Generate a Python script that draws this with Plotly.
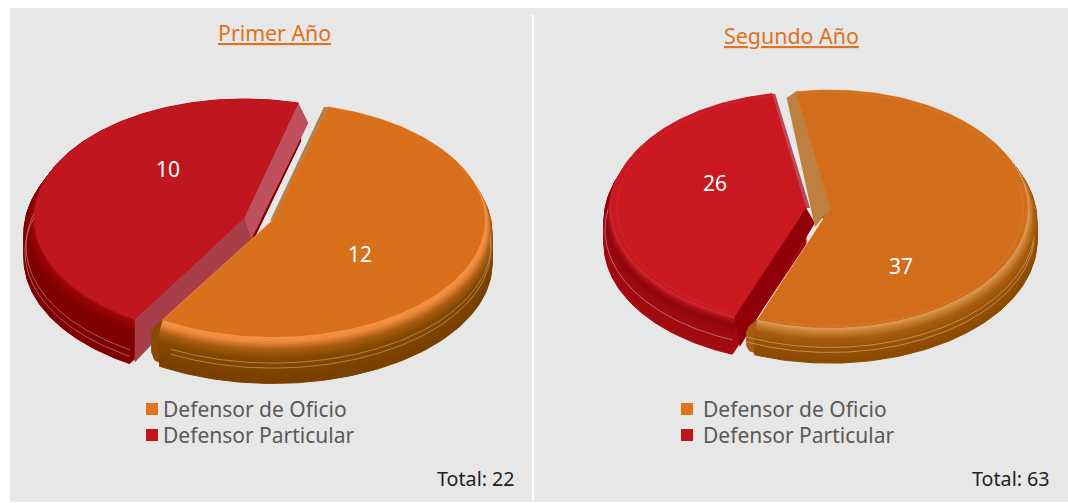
import numpy as np
import plotly.graph_objects as go

# ---- data ----
categories = ["Defensor de Oficio", "Defensor Particular"]
panel_titles = ["Primer Año", "Segundo Año"]
primer_values = [12, 10]
segundo_values = [37, 26]
totals = [sum(primer_values), sum(segundo_values)]

# ---- styles / geometry ----
FONT = "Noto Sans"
BG = "#e7e7e7"
FACE = {"a": ["#d9711c", "#bf1620"], "b": ["#d16d1b", "#c9181f"]}
W, H = 1068, 503


def lerp(c1, c2, t):
    a = [int(c1[i:i + 2], 16) for i in (1, 3, 5)]
    b = [int(c2[i:i + 2], 16) for i in (1, 3, 5)]
    return "#" + "".join(f"{round(x + (y - x) * t):02x}" for x, y in zip(a, b))


def ramp(stops, n):
    """stops: (position, colour); returns n colours from deep to top."""
    pos = [s[0] for s in stops]
    out = []
    for t in np.linspace(0, 1, n):
        j = min(np.searchsorted(pos, t, side="right") - 1, len(stops) - 2)
        f = (t - pos[j]) / (pos[j + 1] - pos[j])
        out.append(lerp(stops[j][1], stops[j + 1][1], f))
    return out


def pt(g, ang):
    a = np.radians(ang)
    return g["cx"] + g["rx"] * np.cos(a), g["cy"] - g["ry"] * np.sin(a)


def wedge(g, a0, a1, dy=0, grow=0):
    t = np.radians(np.linspace(a0, a1, 160))
    x = g["cx"] + (g["rx"] + grow) * np.cos(t)
    y = g["cy"] + dy - (g["ry"] + grow * 0.35) * np.sin(t)
    return np.r_[g["cx"], x, g["cx"]], np.r_[g["cy"] + dy, y, g["cy"] + dy]


def poly(x, y, color, line=0):
    return go.Scatter(x=list(x), y=list(y), mode="lines", fill="toself", fillcolor=color,
                      line=dict(color=color, width=line), hoverinfo="skip", showlegend=False)


def arc(g, a0, a1, dy, grow, color, width=0.7):
    t = np.radians(np.linspace(a0, a1, 120))
    return go.Scatter(x=g["cx"] + (g["rx"] + grow) * np.cos(t),
                      y=g["cy"] + dy - (g["ry"] + grow * 0.35) * np.sin(t),
                      mode="lines", line=dict(color=color, width=width),
                      hoverinfo="skip", showlegend=False)


def quad(g, ang, d_apex, d_rim, color):
    """Cut face between the slice's apex and its rim at angle ang."""
    rx, ry = pt(g, ang)
    x = [g["cx"], rx, rx + d_rim[0], g["cx"] + d_apex[0]]
    y = [g["cy"], ry, ry + d_rim[1], g["cy"] + d_apex[1]]
    return poly(x, y, color)


def corner(g, ang, offsets, color):
    """Rounded end of a slice's side wall, hanging from its rim point at angle ang."""
    rx, ry = pt(g, ang)
    return poly([rx + d[0] for d in offsets], [ry + d[1] for d in offsets], color, 1)


def slice_layers(g, a0, a1, stops, depth, grow, bevel, n=30):
    cols = ramp(stops, n)
    out = []
    for i, c in enumerate(cols):
        t = i / (n - 1)
        dy = depth * (1 - t)
        gr = grow * min(1, (1 - t) * depth / bevel)
        x, y = wedge(g, a0, a1, dy, gr)
        out.append(poly(x, y, c, 1))
    return out


fig = go.Figure()

# ---- first pie ----
start_a = 75.0
sh = 360 * primer_values[0] / totals[0]
o = dict(cx=273, cy=220, rx=212, ry=117)
r = dict(cx=244, cy=218, rx=210, ry=119)
red_a0, red_a1 = start_a, start_a + (360 - sh)
or_a0, or_a1 = start_a - sh, start_a

for tr in slice_layers(r, red_a0, red_a1,
                       [(0, "#7f0000"), (0.75, "#800000"), (0.92, "#960408"), (1, "#a80c12")], 41, 10, 14):
    fig.add_trace(tr)
fig.add_trace(arc(r, 150, red_a1, 28, 8, "#c98080"))
fig.add_trace(arc(r, 150, red_a1, 34, 9, "#c98080"))
fig.add_trace(quad(r, red_a1, (7, 22), (0, 43), "#a93e4b"))
fig.add_trace(quad(r, red_a0, (7, 22), (10, 20), "#c04f5e"))
fig.add_trace(poly(*wedge(r, red_a0, red_a1), FACE["a"][1]))

fig.add_trace(corner(o, or_a0, [(0, 0), (-8, 6), (-11, 14), (-11, 32), (-8, 40), (0, 44), (14, 48), (14, 0)], "#884a04"))
for tr in slice_layers(o, or_a0, or_a1,
                       [(0, "#783f00"), (0.55, "#844800"), (0.75, "#a85c10"), (0.9, "#f08a3c"), (1, "#f59450")],
                       44, 7, 12):
    fig.add_trace(tr)
fig.add_trace(arc(o, -118, 5, 29, 6, "#c49a6a"))
fig.add_trace(arc(o, -118, 5, 24, 6, "#c49a6a"))
fig.add_trace(quad(o, or_a1, (-3, 1), (-4, 0), "#b08050"))
fig.add_trace(poly(*wedge(o, or_a0, or_a1), FACE["a"][0]))

# ---- second pie ----
start_b = 100.0
sh = 360 * segundo_values[0] / totals[1]
o2 = dict(cx=830, cy=209, rx=198, ry=119)
r2 = dict(cx=806, cy=208, rx=195, ry=116)
red_a0, red_a1 = start_b, start_b + (360 - sh)
or_a0, or_a1 = start_b - sh, start_b

for tr in slice_layers(r2, red_a0, red_a1,
                       [(0, "#a50c12"), (0.6, "#9c0a10"), (0.78, "#8c060c"), (0.9, "#b01018"), (1, "#d0303a")],
                       36, 7, 12):
    fig.add_trace(tr)
fig.add_trace(arc(r2, 170, red_a1, 22, 6, "#d09090"))
fig.add_trace(quad(r2, red_a1, (9, 15), (5, 31), "#8f0008"))
fig.add_trace(quad(r2, red_a0, (4, 0), (3, 0), "#b84a55"))
fig.add_trace(poly(*wedge(r2, red_a0, red_a1), FACE["b"][1]))

fig.add_trace(corner(o2, or_a0, [(0, 0), (-8, 6), (-11, 12), (-11, 26), (-8, 31), (0, 34), (14, 36), (14, 0)], "#a85c10"))
for tr in slice_layers(o2, or_a0, or_a1,
                       [(0, "#8a4a00"), (0.5, "#9a5206"), (0.72, "#a85c10"), (0.88, "#c8802f"), (1, "#e0a060")],
                       32, 9, 12):
    fig.add_trace(tr)
fig.add_trace(arc(o2, -114, -5, 22, 7, "#d0a878"))
fig.add_trace(arc(o2, -114, -5, 17, 7, "#d0a878"))
fig.add_trace(quad(o2, or_a1, (-15, 18), (-9, 6), "#bd8040"))
fig.add_trace(poly(*wedge(o2, or_a0, or_a1), FACE["b"][0]))
fig.add_trace(arc(dict(cx=o2["cx"], cy=o2["cy"], rx=o2["rx"] - 5, ry=o2["ry"] - 2),
                  or_a0, or_a1, 0, 0, "#d98a48", 0.4))
fig.add_trace(arc(dict(cx=r2["cx"], cy=r2["cy"], rx=r2["rx"] - 6, ry=r2["ry"] - 2),
                  red_a0, red_a1, 0, 0, "#d23a44", 0.4))

# ---- data labels ----
label_x = [360, 168, 901, 715]
label_y = [257, 172, 269, 186]
fig.add_trace(go.Scatter(x=label_x, y=label_y, mode="text",
                         text=[str(v) for v in primer_values + segundo_values],
                         textposition="middle center",
                         textfont=dict(family=FONT, size=21, color="white"),
                         hoverinfo="skip", showlegend=False))

# ---- legend markers ----
marker_x = [[152, 152], [687, 687]]
marker_y = [409, 435]
legend_colors = ["#e0731c", "#c1141c"]
for mx in marker_x:
    fig.add_trace(go.Scatter(x=mx, y=marker_y, mode="markers",
                             marker=dict(symbol="square", size=12, color=legend_colors, line=dict(width=0)),
                             hoverinfo="skip", showlegend=False))

ann = []
for x0 in (161, 701):
    for c, y in zip(categories, marker_y):
        ann.append(dict(x=x0, y=y, text=c, xanchor="left", yanchor="middle", showarrow=False,
                        font=dict(family=FONT, size=21, color="#595959")))
for t, x, y, s in zip(panel_titles, (274.5, 791.5), (32, 35), (21.3, 21.4)):
    ann.append(dict(x=x, y=y, text=f"<u>{t}</u>", xanchor="center", yanchor="middle", showarrow=False,
                    font=dict(family=FONT, size=s, color="#dd7322")))
for tot, x in zip(totals, (517, 1052)):
    ann.append(dict(x=x, y=478, text=f"Total: {tot}", xanchor="right", yanchor="middle", showarrow=False,
                    font=dict(family=FONT, size=19.7, color="#222222")))

fig.update_layout(
    width=W, height=H, margin=dict(l=0, r=0, t=0, b=0), autosize=False,
    paper_bgcolor="white", plot_bgcolor="white", showlegend=False,
    xaxis=dict(range=[0, W], visible=False, fixedrange=True),
    yaxis=dict(range=[H, 0], visible=False, fixedrange=True),
    annotations=ann,
    shapes=[
        dict(type="rect", x0=10, x1=W, y0=8, y1=502, fillcolor=BG, line_width=0, layer="below"),
        dict(type="line", x0=533, x1=533, y0=15, y1=500, line=dict(color="white", width=2), layer="below"),
    ],
)

fig.write_html("out.html", config={"displayModeBar": False},
               post_script="document.body.style.margin='0';document.body.style.overflow='hidden';")
